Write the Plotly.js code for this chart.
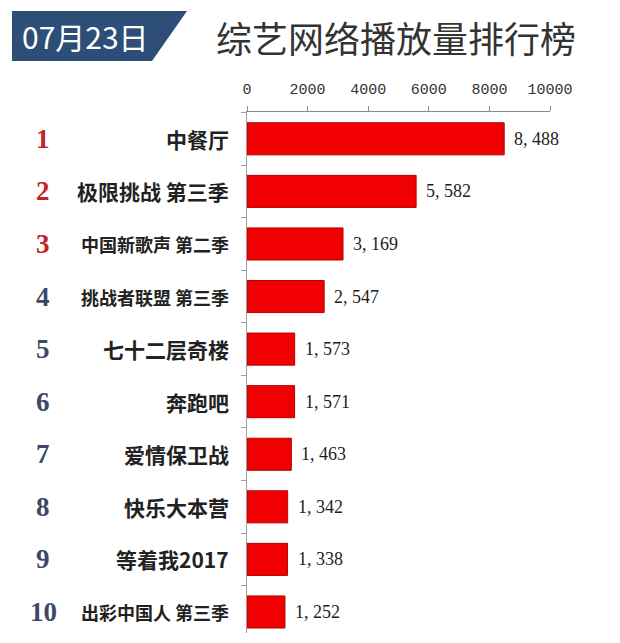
<!DOCTYPE html>
<html>
<head>
<meta charset="utf-8">
<script src="https://cdn.plot.ly/plotly-3.0.1.min.js"></script>
<style>html,body{margin:0;padding:0;background:#fff;}#chart{width:620px;height:643px;}</style>
</head>
<body>
<div id="chart"></div>
<script>
// ---- data ----
const ranks = ["1","2","3","4","5","6","7","8","9","10"];
const shows = ["中餐厅","极限挑战 第三季","中国新歌声 第二季","挑战者联盟 第三季","七十二层奇楼","奔跑吧","爱情保卫战","快乐大本营","等着我2017","出彩中国人 第三季"];
const plays = [8488, 5582, 3169, 2547, 1573, 1571, 1463, 1342, 1338, 1252];
const xTicks = [0, 2000, 4000, 6000, 8000, 10000];
const dateLabel = "07月23日";
const chartTitle = "综艺网络播放量排行榜";

// ---- layout geometry ----
const W = 620, H = 643;
const M = {l: 247, r: 70, t: 112, b: 10};
const PW = W - M.l - M.r, PH = H - M.t - M.b;
const px2x = p => (p - M.l) / PW;
const py2y = p => (H - M.b - p) / PH;

const fmt = v => String(v).replace(/\B(?=(\d{3})+(?!\d))/g, ", ");

const bar = {
  type: "bar", orientation: "h",
  x: plays, y: shows,
  marker: {color: "#f00000", line: {color: "#b80000", width: 1}},
  hoverinfo: "skip"
};

const annotations = [];
shows.forEach((s, i) => {
  const long = s.length > 8;
  annotations.push({
    xref: "paper", yref: "y", x: px2x(231), y: s, xanchor: "right", yanchor: "middle",
    text: s, showarrow: false,
    font: {family: "Noto Sans CJK SC", size: long ? 18 : 21, color: "#222", weight: "bold"}
  });
  annotations.push({
    xref: "paper", yref: "y", x: px2x(43), y: s, xanchor: "center", yanchor: "middle",
    text: ranks[i], showarrow: false,
    font: {family: "Liberation Serif", size: 27, color: i < 3 ? "#c62029" : "#3b4868", weight: "bold"}
  });
  annotations.push({
    xref: "x", yref: "y", x: plays[i], y: s, xanchor: "left", yanchor: "middle",
    xshift: 8, text: fmt(plays[i]), showarrow: false,
    font: {family: "Liberation Serif", size: 18, color: "#1e1e1e"}
  });
});
annotations.push({
  xref: "paper", yref: "paper", x: px2x(85), y: py2y(36), xanchor: "center", yanchor: "middle",
  text: dateLabel, showarrow: false,
  font: {family: "Noto Sans CJK SC", size: 30, color: "#ffffff"}
});

const badge = {
  type: "path", xref: "paper", yref: "paper",
  path: `M ${px2x(12)} ${py2y(11)} L ${px2x(187)} ${py2y(11)} L ${px2x(152)} ${py2y(61)} L ${px2x(12)} ${py2y(61)} Z`,
  fillcolor: "#2d4f77", line: {width: 0}
};

const layout = {
  width: W, height: H,
  margin: M,
  paper_bgcolor: "#fff", plot_bgcolor: "#fff",
  showlegend: false,
  bargap: 0.39,
  title: {
    text: chartTitle, xref: "paper", yref: "container",
    x: px2x(396), xanchor: "center", y: 1 - 40 / H, yanchor: "middle",
    font: {family: "Noto Sans CJK SC", size: 36, color: "#333"}
  },
  xaxis: {
    side: "top", range: [0, 10000], tickvals: xTicks, ticktext: xTicks.map(String),
    showgrid: false, zeroline: false, showline: true, linecolor: "#8a8a8a", linewidth: 1,
    ticks: "outside", ticklen: 5, tickcolor: "#8a8a8a",
    ticklabelstandoff: 6,
    tickfont: {family: "Liberation Mono", size: 15, color: "#333"},
    fixedrange: true
  },
  yaxis: {
    type: "category", range: [9.4, -0.51],
    showticklabels: false, showgrid: false, zeroline: false,
    showline: true, linecolor: "#a0a0a0", linewidth: 1,
    ticks: "outside", tickson: "boundaries", ticklen: 5, tickcolor: "#a0a0a0",
    fixedrange: true
  },
  shapes: [badge],
  annotations: annotations
};

Plotly.newPlot("chart", [bar], layout, {displayModeBar: false, staticPlot: true});
</script>
</body>
</html>
